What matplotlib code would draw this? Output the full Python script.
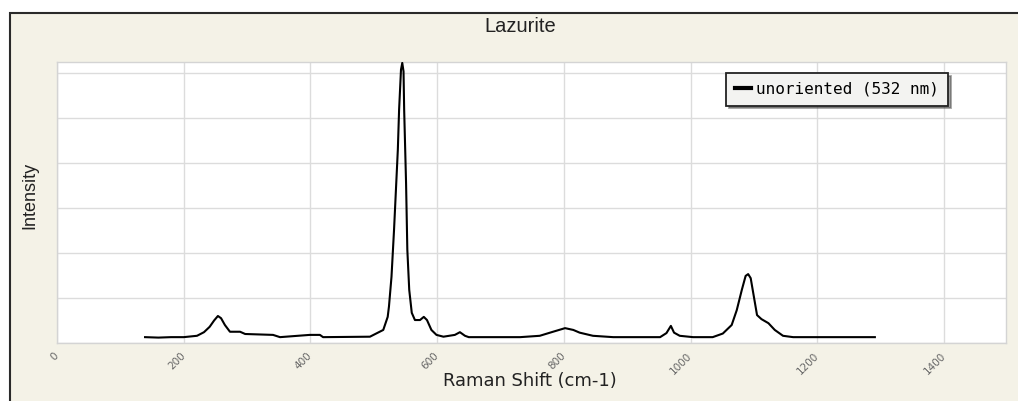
import matplotlib
matplotlib.use("Agg")
import matplotlib.pyplot as plt
from matplotlib.patches import Rectangle

# ---- data ----
title = "Lazurite"
x_label = "Raman Shift (cm-1)"
y_label = "Intensity"
series_name = "unoriented (532 nm)"

x_ticks = [0, 200, 400, 600, 800, 1000, 1200, 1400]

raman_shift = [139, 160, 180, 200, 221, 232, 241, 248, 254, 259, 265, 273, 289, 297,
               341, 352, 399, 415, 420, 494, 515, 522, 524, 528, 532, 535, 538, 540,
               543, 545, 547, 548, 551, 553, 556, 560, 565, 573, 579, 584, 591, 599,
               610, 628, 636, 644, 650, 700, 731, 762, 783, 802, 815, 825, 846, 878,
               952, 962, 969, 974, 983, 1004, 1035, 1051, 1065, 1073, 1081, 1087, 1091,
               1095, 1100, 1105, 1112, 1123, 1133, 1146, 1162, 1200, 1250, 1291]
intensity = [0.13, 0.12, 0.13, 0.13, 0.16, 0.24, 0.36, 0.50, 0.60, 0.55, 0.40, 0.25, 0.25, 0.20,
             0.18, 0.13, 0.18, 0.18, 0.13, 0.14, 0.29, 0.58, 0.81, 1.47, 2.51, 3.40, 4.29, 5.18,
             6.07, 6.22, 6.03, 5.18, 3.55, 2.07, 1.18, 0.67, 0.51, 0.51, 0.58, 0.51, 0.29, 0.18,
             0.14, 0.18, 0.24, 0.16, 0.13, 0.13, 0.13, 0.16, 0.25, 0.33, 0.29, 0.23, 0.16, 0.13,
             0.13, 0.22, 0.38, 0.23, 0.16, 0.13, 0.13, 0.21, 0.40, 0.73, 1.18, 1.49, 1.53,
             1.44, 1.03, 0.62, 0.53, 0.44, 0.29, 0.16, 0.13, 0.13, 0.13, 0.13]

y_grid = [0, 1, 2, 3, 4, 5, 6]

# ---- figure ----
W, H = 1018, 401
fig = plt.figure(figsize=(W / 100, H / 100), dpi=100, facecolor="white")

panel_color = "#f4f2e7"
panel = Rectangle((10 / W, -0.2), 1.2, (H - 13) / H + 0.2,
                  transform=fig.transFigure, facecolor=panel_color,
                  edgecolor="#2a2a2a", linewidth=1.5, zorder=-5)
fig.patches.append(panel)

ax = fig.add_axes([57 / W, (H - 343) / H, (1006 - 57) / W, (343 - 62) / H])
ax.set_zorder(1)
ax.set_facecolor("white")
ax.plot(raman_shift, intensity, color="black", linewidth=1.5, label=series_name, zorder=3)

ax.set_xlim(0, 1498)
ax.set_ylim(0, 6.24)
ax.set_xticks(x_ticks)
ax.set_xticklabels([str(t) for t in x_ticks], rotation=45, ha="right", va="center",
                   rotation_mode="anchor", fontsize=7.5, color="#666666")
ax.tick_params(axis="x", length=0, pad=8)
ax.set_yticks(y_grid)
ax.tick_params(axis="y", length=0, labelleft=False)
ax.grid(True, color="#dcdcdc", linewidth=1.0)
ax.set_axisbelow(True)
for s in ax.spines.values():
    s.set_color("#d4d4d4")
    s.set_linewidth(1.0)

fig.text(530 / W, 1 - 381 / H, x_label, ha="center", va="center",
         fontsize=12.9, family="DejaVu Sans", color="#222222")
fig.text(30 / W, 1 - 195 / H, y_label, ha="center", va="center", rotation=90,
         fontsize=13, family="Liberation Sans", color="#222222")
fig.text(520 / W, 1 - 27 / H, title, ha="center", va="center",
         fontsize=14.5, family="Liberation Sans", color="#222222")

leg = ax.legend(loc="upper left", bbox_to_anchor=(726 / W, 1 - 73 / H),
                bbox_transform=fig.transFigure, borderaxespad=0,
                prop={"family": "DejaVu Sans Mono", "size": 11.5},
                handlelength=1.0, handletextpad=0.35, borderpad=0.55,
                fancybox=False, shadow=True, framealpha=1)
leg.get_frame().set_edgecolor("#222222")
leg.get_frame().set_facecolor("#f3f3f1")
leg.get_frame().set_linewidth(1.3)
for line in leg.get_lines():
    line.set_linewidth(3)

fig.savefig("out.png", dpi=100, facecolor=fig.get_facecolor())
